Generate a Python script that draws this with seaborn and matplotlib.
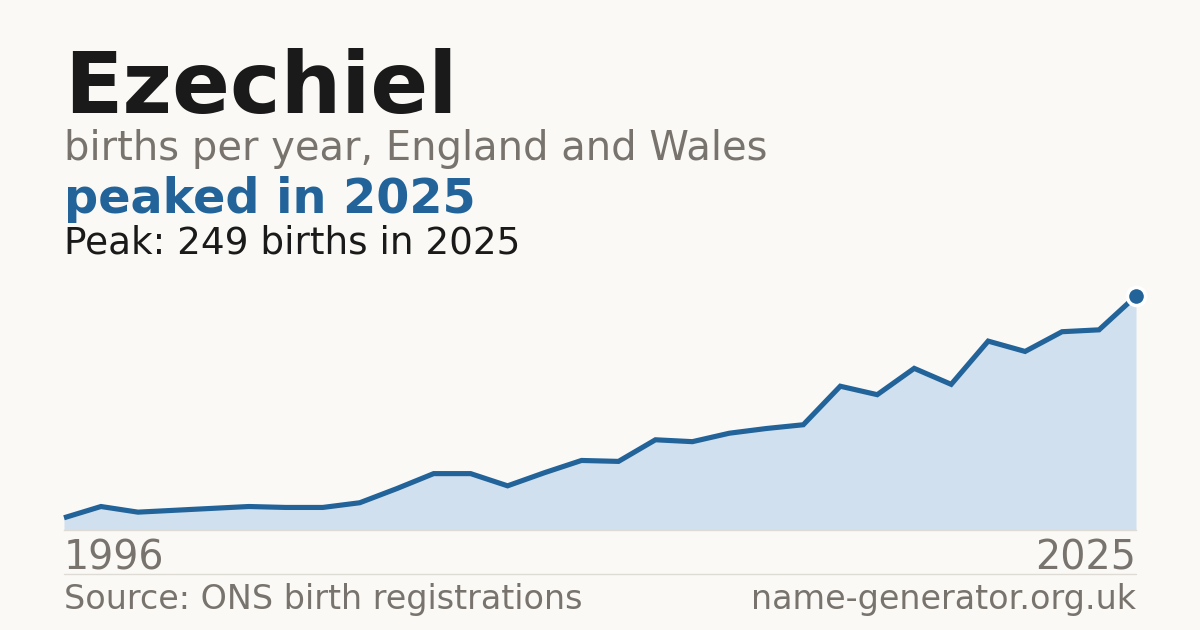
import matplotlib
matplotlib.use("Agg")
import matplotlib.pyplot as plt
import seaborn as sns
import pandas as pd
from matplotlib.lines import Line2D

years = list(range(1996, 2026))
births = [13, 25, 19, 21, 23, 25, 24, 24, 29, 44,
          60, 60, 47, 61, 74, 73, 96, 94, 103, 108,
          112, 153, 144, 172, 155, 201, 190, 211, 213, 249]
tick_years = [1996, 2025]

name = "Ezechiel"
subtitle = "births per year, England and Wales"
headline = "peaked in 2025"
peak_text = "Peak: 249 births in 2025"
source_text = "Source: ONS birth registrations"
site_text = "name-generator.org.uk"

BG = "#faf9f5"
BLUE = "#22639a"
FILL = "#d0e0ef"
GREY = "#78736d"
DARK = "#1a1a1a"

sns.set_theme(style="white")
plt.rcParams['font.family'] = ['DejaVu Sans']

W, H = 1200, 630
fig = plt.figure(figsize=(W / 100, H / 100), dpi=100, facecolor=BG)

def fx(px):
    return px / W

def fy(py):
    return 1 - py / H

ax_top = 280
ax_bottom = 530
ax = fig.add_axes([fx(64), fy(ax_bottom), fx(1136) - fx(64), (ax_bottom - ax_top) / H])
ax.set_facecolor(BG)

df = pd.DataFrame({"year": years, "births": births})
ymax = max(births) * (ax_bottom - ax_top) / (ax_bottom - 296)

ax.fill_between(df["year"], 0, df["births"], color=FILL, linewidth=0, zorder=1)
sns.lineplot(data=df, x="year", y="births", ax=ax, color=BLUE, linewidth=3.7,
             solid_capstyle="butt", solid_joinstyle="miter", zorder=2, clip_on=False)
ax.scatter([years[-1]], [births[-1]], s=170, color=BLUE, edgecolor="white",
           linewidth=2.5, zorder=3, clip_on=False)

ax.set_xlim(years[0], years[-1])
ax.set_ylim(0, ymax)
ax.set_xticks(tick_years)
ax.set_xticklabels([str(t) for t in tick_years], fontsize=28.5, color=GREY)
labels = ax.get_xticklabels()
labels[0].set_horizontalalignment("left")
labels[-1].set_horizontalalignment("right")
ax.tick_params(axis="x", length=0, pad=6)
ax.set_yticks([])
ax.set_xlabel("")
ax.set_ylabel("")
for s in ["top", "left", "right"]:
    ax.spines[s].set_visible(False)
ax.spines["bottom"].set_color("#dedbd5")
ax.spines["bottom"].set_linewidth(1)

fig.text(fx(64), fy(113), name, fontsize=61.5, fontweight="bold", color=DARK, va="baseline")
fig.text(fx(64), fy(160), subtitle, fontsize=28.8, color=GREY, va="baseline")
fig.text(fx(64), fy(213), headline, fontsize=34.4, fontweight="bold", color=BLUE, va="baseline")
fig.text(fx(64), fy(253), peak_text, fontsize=26.9, color=DARK, va="baseline")

fig.add_artist(Line2D([fx(64), fx(1136)], [fy(574), fy(574)], color="#dedbd5", linewidth=1))
fig.text(fx(64), fy(609), source_text, fontsize=24, color=GREY, va="baseline")
fig.text(fx(1136), fy(609), site_text, fontsize=24, color=GREY, va="baseline", ha="right")

fig.savefig("out.png", dpi=100, facecolor=BG)
